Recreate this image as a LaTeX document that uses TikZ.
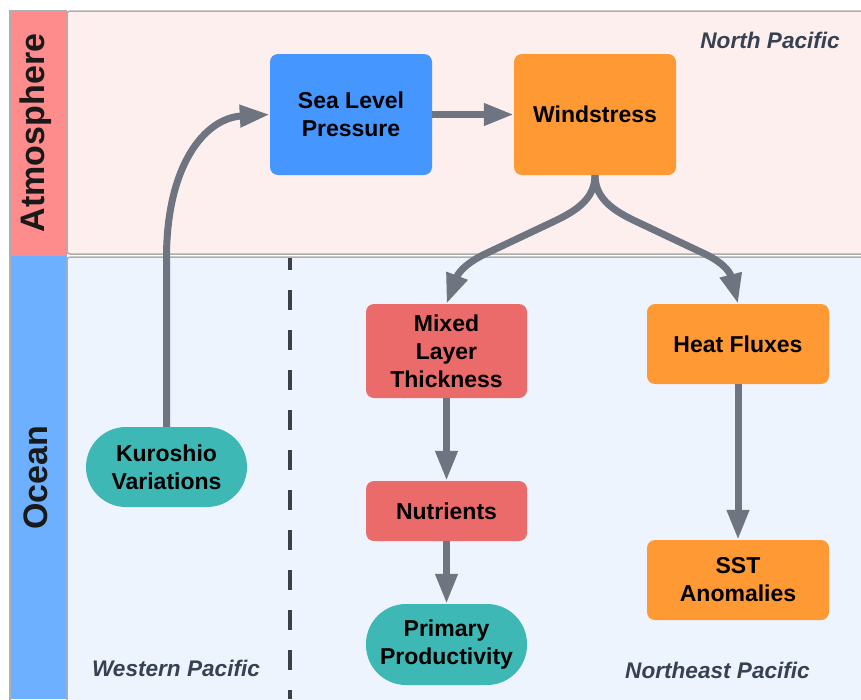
\documentclass[tikz,border=0pt]{standalone}
\usepackage{fontspec}
\setmainfont{Liberation Sans}
\usetikzlibrary{arrows.meta}
\definecolor{atmband}{HTML}{FF8C8C}
\definecolor{oceanband}{HTML}{6CB0FF}
\definecolor{atmpanel}{HTML}{FDEFEE}
\definecolor{oceanpanel}{HTML}{EDF4FE}
\definecolor{bordergray}{HTML}{AEAEAE}
\definecolor{slpblue}{HTML}{4596FF}
\definecolor{orangebox}{HTML}{FF9933}
\definecolor{redbox}{HTML}{EB6B6B}
\definecolor{tealbox}{HTML}{3DB8B5}
\definecolor{arrowgray}{HTML}{6E7480}
\definecolor{dashgray}{HTML}{3B3F46}
\definecolor{labelgray}{HTML}{374151}
\tikzset{
  box/.style={rectangle, rounded corners=8pt, inner sep=2pt, align=center,
    font=\fontsize{23}{28}\selectfont\bfseries, text=black},
  pill/.style={box, rounded corners=40pt},
  arr/.style={draw=arrowgray, line width=7pt, line join=round, -{Triangle[length=30pt,width=21pt]}},
  region/.style={font=\fontsize{22.6}{26}\selectfont\bfseries\itshape, text=labelgray, inner sep=0pt},
  bandlabel/.style={font=\fontsize{34}{40}\selectfont\bfseries, text=black!90, rotate=90, inner sep=0pt}
}
\begin{document}
\begin{tikzpicture}[x=1pt,y=-1pt]
\useasboundingbox (0,0) rectangle (861,699);
\fill[white] (0,0) rectangle (861,699);
% bands
\fill[atmband] (10,11) rectangle (67,255);
\fill[oceanband] (10,256) rectangle (67,699);
\draw[bordergray, line width=1.5pt] (10,705) -- (10,11) -- (67,11);
\draw[bordergray, line width=1pt] (10,255.5) -- (67,255.5);
% panels
\draw[fill=atmpanel, draw=bordergray, line width=1.5pt, rounded corners=3pt] (67,11) rectangle (875,254);
\draw[fill=oceanpanel, draw=bordergray, line width=1.5pt, rounded corners=3pt] (67,257) rectangle (875,712);
% band labels
\node[bandlabel] (atm) at (36,133) {Atmosphere};
\node[bandlabel] (ocn) at (36,478) {Ocean};
% dashed divider
\coordinate (dtop) at (290,258);
\coordinate (dbot) at (290,699);
\draw[dashgray, line width=4pt, dash pattern=on 20pt off 20pt, dash phase=8pt] (dtop) -- (dbot);
% region labels
\node[region, anchor=base east] (np) at (840,48) {North Pacific};
\node[region, anchor=base] (wp) at (176,676) {Western Pacific};
\node[region, anchor=base] (nep) at (717.5,678) {Northeast Pacific};
% nodes
\node[box, fill=slpblue, minimum width=162pt, minimum height=121pt] (slp) at (351,114.5) {Sea Level\\Pressure};
\node[box, fill=orangebox, minimum width=162pt, minimum height=121pt] (wind) at (595,114.5) {Windstress};
\node[box, fill=redbox, minimum width=161pt, minimum height=94pt] (mlt) at (446.5,351) {Mixed\\Layer\\Thickness};
\node[box, fill=orangebox, minimum width=182pt, minimum height=80pt] (hf) at (738,344) {Heat Fluxes};
\node[box, fill=redbox, minimum width=161pt, minimum height=60pt] (nut) at (446.5,511) {Nutrients};
\node[box, fill=orangebox, minimum width=182pt, minimum height=80pt] (sst) at (738,580) {SST\\Anomalies};
\node[pill, fill=tealbox, minimum width=161pt, minimum height=80pt] (kur) at (166.5,467) {Kuroshio\\Variations};
\node[pill, fill=tealbox, minimum width=161pt, minimum height=81pt] (pp) at (446.5,644.5) {Primary\\Productivity};
% connectors
\coordinate (kbend) at (166.5,258);
\draw[arr] (kur.north) -- (kbend) .. controls (166.5,165) and (205,118) .. (slp.west);
\draw[arr] (slp.east) -- (wind.west);
\coordinate (lA) at (540,228);
\coordinate (lB) at (485,254);
\coordinate (rA) at (650,228);
\coordinate (rB) at (705,254);
\draw[arr] (wind.south) .. controls (595,205) and (565,216) .. (lA) -- (lB) .. controls (462,265) and (457,276) .. (mlt.north);
\draw[arr] (wind.south) .. controls (595,205) and (625,216) .. (rA) -- (rB) .. controls (728,265) and (731,276) .. (hf.north);
\draw[arr] (mlt.south) -- (nut.north);
\draw[arr] (nut.south) -- (pp.north);
\draw[arr] (hf.south) -- (sst.north);
\end{tikzpicture}
\end{document}
